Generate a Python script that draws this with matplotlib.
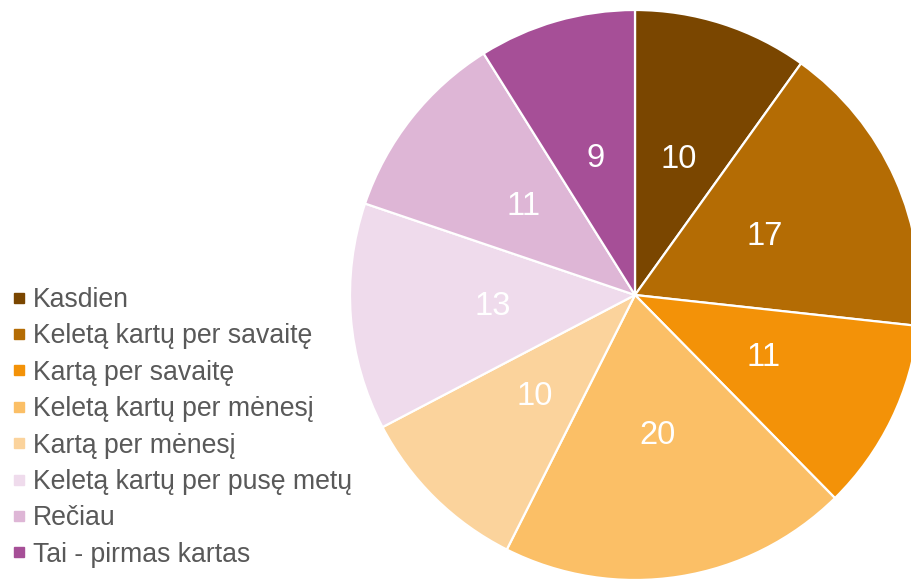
import matplotlib
matplotlib.use("Agg")
import matplotlib.pyplot as plt
from matplotlib.lines import Line2D

categories = ["Kasdien", "Keletą kartų per savaitę", "Kartą per savaitę",
              "Keletą kartų per mėnesį", "Kartą per mėnesį",
              "Keletą kartų per pusę metų", "Rečiau", "Tai - pirmas kartas"]
values = [10, 17, 11, 20, 10, 13, 11, 9]
colors = ["#7A4600", "#B46C04", "#F39208", "#FBBF66", "#FBD39C",
          "#EFDBEC", "#DEB6D6", "#A64F97"]

plt.rcParams['font.family'] = ['Liberation Sans', 'DejaVu Sans']

W, H = 912, 580
fig = plt.figure(figsize=(W / 100, H / 100), dpi=100)
cx, cy, r = 635, 295, 285
ax = fig.add_axes([(cx - r) / W, (H - cy - r) / H, 2 * r / W, 2 * r / H])
wedges, texts = ax.pie(values, colors=colors, startangle=90, counterclock=False,
                       labels=[str(v) for v in values], labeldistance=0.5,
                       radius=1.0,
                       wedgeprops=dict(edgecolor="white", linewidth=1.6),
                       textprops=dict(color="white", fontsize=23.5))
for t in texts:
    t.set_ha("center")
    t.set_va("center")
ax.set_xlim(-1, 1)
ax.set_ylim(-1, 1)
ax.set_aspect("equal")
ax.axis("off")
for w in wedges:
    w.set_clip_on(False)

handles = [Line2D([], [], marker="s", linestyle="none", markersize=7.5,
                  markerfacecolor=c, markeredgecolor=c) for c in colors]
leg = fig.legend(handles, categories, loc="upper left",
                 bbox_to_anchor=(12 / W, 1 - 287 / H), frameon=False,
                 fontsize=19.2, labelspacing=0.39, handlelength=0.5,
                 handletextpad=0.3, borderpad=0, borderaxespad=0)
for t in leg.get_texts():
    t.set_color("#595959")

fig.savefig("out.png", dpi=100)
